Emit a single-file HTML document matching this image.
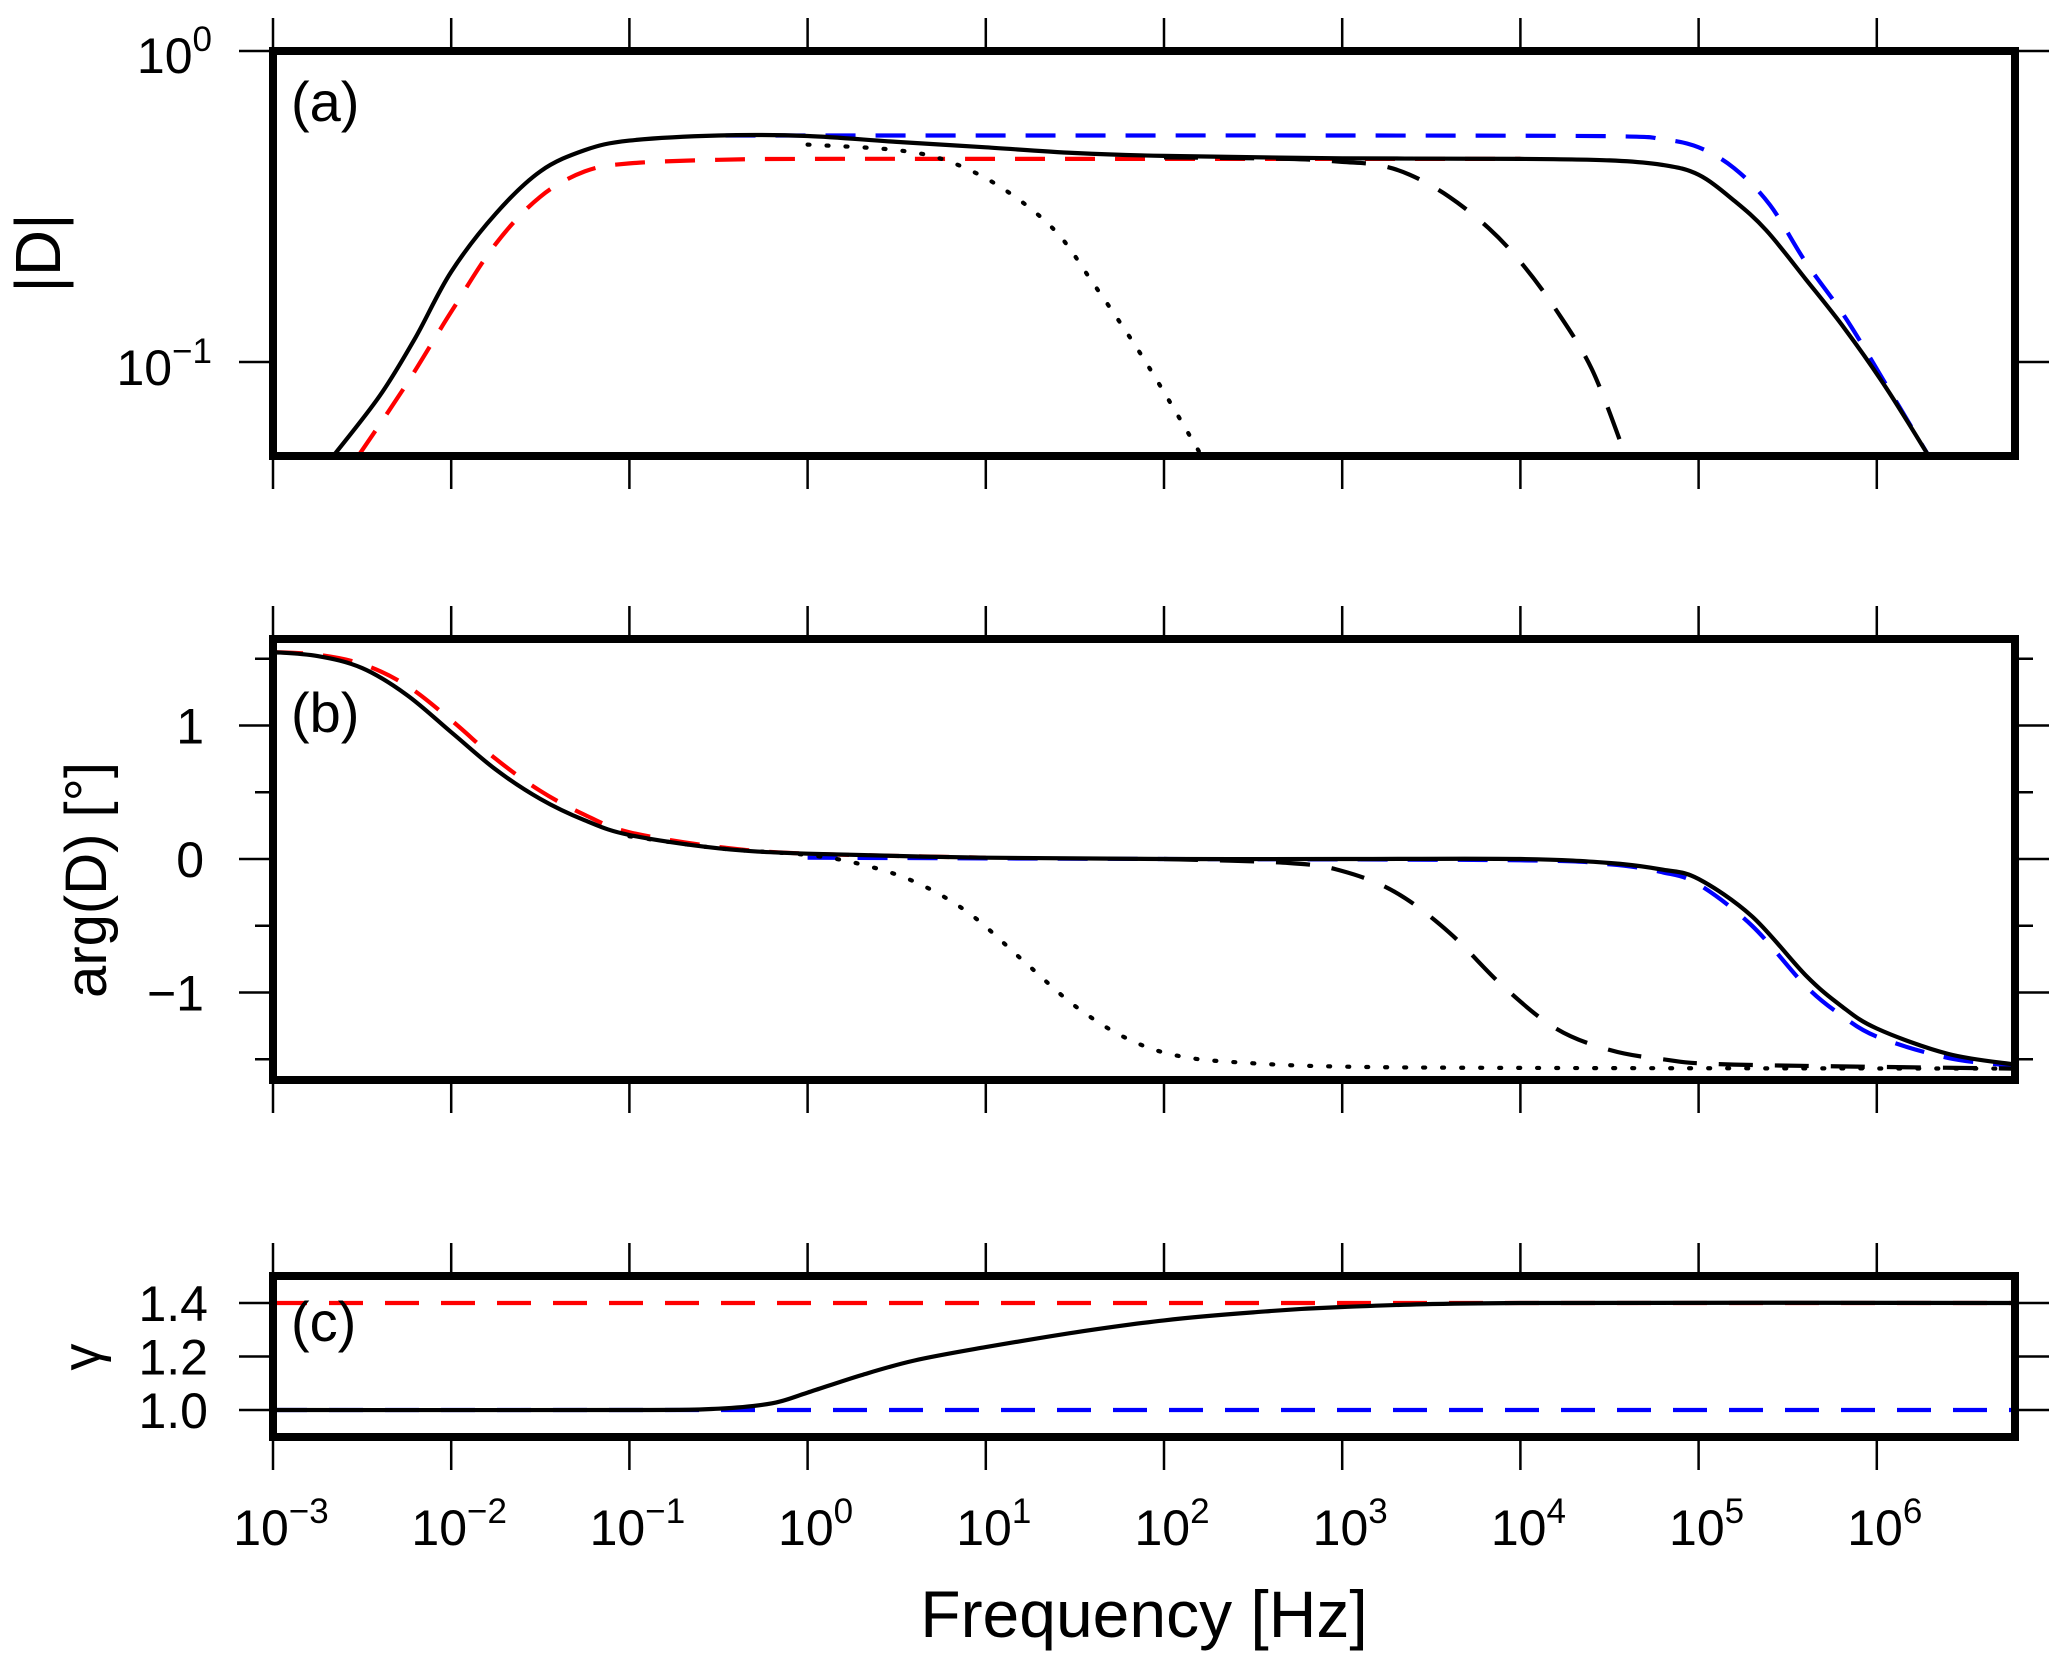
<!DOCTYPE html>
<html><head><meta charset="utf-8">
<style>
html,body{margin:0;padding:0;background:#fff;}
svg{display:block;font-family:"Liberation Sans",Arial,sans-serif;}
</style></head>
<body>
<svg id="chart" width="2067" height="1668" viewBox="0 0 2067 1668" xmlns="http://www.w3.org/2000/svg"></svg>
<script>
// ---- data (log10 frequency, value) ----
const magBlackX = [-2.66,-2.4,-2.2,-2.0,-1.75,-1.5,-1.25,-1.0,-0.5,0.0,0.5,1.0,1.5,2.0,3.0,4.0,4.5,4.8,5.0,5.2,5.38,5.6,5.82,6.05,6.29];
const magBlackY = [0.05,0.078,0.12,0.195,0.30,0.41,0.48,0.515,0.535,0.533,0.51,0.49,0.47,0.46,0.452,0.45,0.445,0.43,0.40,0.33,0.265,0.185,0.128,0.083,0.05];
const magRedX = [-2.52,-2.25,-2.0,-1.75,-1.5,-1.25,-1.0,-0.5,0.0,1.0,2.0,3.0,4.0];
const magRedY = [0.05,0.085,0.145,0.24,0.34,0.41,0.435,0.447,0.45,0.45,0.45,0.45,0.45];
const magBlueX = [-0.46,1.0,3.0,4.5,4.8,5.0,5.2,5.4,5.6,5.82,6.05,6.29];
const magBlueY = [0.535,0.535,0.535,0.532,0.52,0.49,0.42,0.32,0.21,0.14,0.085,0.05];
const magDotX = [0.0,0.5,0.8,1.1,1.39,1.6,1.83,2.0,2.21];
const magDotY = [0.50,0.48,0.44,0.36,0.264,0.18,0.115,0.08,0.05];
const magDashX = [2.0,2.7,3.0,3.2,3.38,3.6,3.82,4.0,4.19,4.4,4.59];
const magDashY = [0.455,0.45,0.44,0.43,0.40,0.34,0.27,0.21,0.15,0.095,0.05];

const argBlackX = [-3,-2.75,-2.5,-2.25,-2.0,-1.75,-1.5,-1.25,-1.0,-0.5,0,1,2,3,4,4.5,4.8,5.0,5.3,5.6,5.8,6.0,6.4,6.775];
const argBlackY = [1.55,1.52,1.43,1.23,0.95,0.67,0.45,0.29,0.18,0.08,0.04,0.01,0,0,0,-0.03,-0.08,-0.15,-0.43,-0.87,-1.1,-1.27,-1.46,-1.54];
const argRedX = [-3,-2.75,-2.5,-2.25,-2.0,-1.75,-1.5,-1.25,-1.0,-0.5,0,1];
const argRedY = [1.55,1.53,1.46,1.30,1.04,0.75,0.51,0.33,0.20,0.09,0.04,0.01];
const argBlueX = [0,2,4,4.5,4.8,5.0,5.3,5.6,5.8,6.0,6.4,6.775];
const argBlueY = [0.01,0,-0.01,-0.04,-0.10,-0.19,-0.50,-0.95,-1.17,-1.33,-1.49,-1.55];
const argDotX = [-1.0,-0.5,0,0.3,0.6,0.9,1.2,1.5,1.8,2.1,2.5,3.0,4,6.775];
const argDotY = [0.17,0.08,0.03,-0.04,-0.17,-0.40,-0.75,-1.10,-1.35,-1.48,-1.53,-1.555,-1.565,-1.57];
const argDashX = [2.0,2.7,3.0,3.3,3.6,3.9,4.2,4.5,4.8,5.2,6.775];
const argDashY = [0.0,-0.03,-0.09,-0.25,-0.55,-0.95,-1.27,-1.43,-1.50,-1.54,-1.57];

const gamBlackX = [-3,-1,-0.5,-0.2,0,0.3,0.6,1,1.5,2,2.5,3,4,6.775];
const gamBlackY = [1.0,1.0,1.005,1.025,1.065,1.13,1.185,1.235,1.29,1.335,1.365,1.385,1.4,1.4];
const gamRedX = [-3,6.775];
const gamRedY = [1.4,1.4];
const gamBlueX = [-3,6.775];
const gamBlueY = [1.0,1.0];

const xTickExps = [-3,-2,-1,0,1,2,3,4,5,6];
const argTicks = [-1,0,1];
const argMinor = [-1.5,-0.5,0.5,1.5];
const gamTicks = ["1.0","1.2","1.4"];

// ---- geometry ----
const L=273, R=2015;
const xs = lf => L + (lf+3)*178.2;
const panels = {
 a:{top:51,bot:456},
 b:{top:639,bot:1080},
 c:{top:1276,bot:1437}
};
const yA = v => 51 + (0 - Math.log10(v))*311;
const yB = v => 859 - v*133.5;
const yC = v => 1410 - (v-1.0)*267.5;

const svg = document.getElementById('chart');
const NS = 'http://www.w3.org/2000/svg';
function mk(tag, attrs, parent){
  const e = document.createElementNS(NS, tag);
  for (const k in attrs) e.setAttribute(k, attrs[k]);
  (parent||svg).appendChild(e);
  return e;
}
function smoothPath(pts){
  if (pts.length<3) return 'M'+pts.map(p=>p[0].toFixed(1)+' '+p[1].toFixed(1)).join(' L');
  let d='M'+pts[0][0].toFixed(1)+' '+pts[0][1].toFixed(1);
  for (let i=0;i<pts.length-1;i++){
    const p0=pts[Math.max(0,i-1)], p1=pts[i], p2=pts[i+1], p3=pts[Math.min(pts.length-1,i+2)];
    const c1=[p1[0]+(p2[0]-p0[0])/6, p1[1]+(p2[1]-p0[1])/6];
    const c2=[p2[0]-(p3[0]-p1[0])/6, p2[1]-(p3[1]-p1[1])/6];
    d+=' C'+c1[0].toFixed(1)+' '+c1[1].toFixed(1)+' '+c2[0].toFixed(1)+' '+c2[1].toFixed(1)+' '+p2[0].toFixed(1)+' '+p2[1].toFixed(1);
  }
  return d;
}
function curve(xArr, yArr, yf, color, dash, w, name, clipId){
  const pts = xArr.map((x,i)=>[xs(x), yf(yArr[i])]);
  const p = mk('path',{d:smoothPath(pts),fill:'none',stroke:color,'stroke-width':w,'stroke-dasharray':dash,'stroke-linejoin':'round','stroke-linecap':dash==='2 17'?'round':'butt','clip-path':'url(#'+clipId+')'});
  
  
}
const defs = mk('defs',{});
for (const k in panels){
  const cp = mk('clipPath',{id:'clip-'+k},defs);
  mk('rect',{x:L,y:panels[k].top,width:R-L,height:panels[k].bot-panels[k].top},cp);
}

function tickLabel(x,y,base,exp,anchor,name){
  const t = mk('text',{x:x,y:y,'font-size':50,'text-anchor':anchor,fill:'#000'});
  
  
  t.textContent = base;
  const s = mk('tspan',{dy:-22,'font-size':35},t);
  s.textContent = exp;
}

for (const k in panels){
  const p = panels[k];
  xTickExps.forEach(e=>{
    const x = xs(e);
    const t1 = mk('line',{x1:x,x2:x,y1:p.top-33,y2:p.top,stroke:'#000','stroke-width':2.5});
    
    
    const t2 = mk('line',{x1:x,x2:x,y1:p.bot,y2:p.bot+33,stroke:'#000','stroke-width':2.5});
    
    
  });
}
xTickExps.forEach(e=>{
  tickLabel(xs(e)+8,1545,'10',e<0?'\u2212'+(-e):String(e),'middle','x-tick-label');
});

function yTick(y,len,k){
  const a = mk('line',{x1:L-len,x2:L,y1:y,y2:y,stroke:'#000','stroke-width':2.5});
  
  
  const b = mk('line',{x1:R,x2:R+len,y1:y,y2:y,stroke:'#000','stroke-width':2.5});
  
  
}
yTick(yA(1),34,'a'); yTick(yA(0.1),34,'a');
tickLabel(212,73,'10','0','end','y-tick-label-a');
tickLabel(212,385,'10','\u22121','end','y-tick-label-a');
argTicks.forEach(v=>{
  yTick(yB(v),34,'b');
  const t = mk('text',{x:204,y:yB(v)+18,'font-size':50,'text-anchor':'end'});
  
  
  t.textContent = v<0?'\u2212'+(-v):String(v);
});
argMinor.forEach(v=>yTick(yB(v),18,'b'));
gamTicks.forEach(s=>{
  const v = parseFloat(s);
  yTick(yC(v),34,'c');
  const t = mk('text',{x:208,y:yC(v)+18,'font-size':50,'text-anchor':'end'});
  
  
  t.textContent = s;
});

const W=4.2;
curve(magRedX,magRedY,yA,'#f00','30 20',W,'mag-red-dashed','clip-a');
curve(magBlueX,magBlueY,yA,'#00f','30 20',W,'mag-blue-dashed','clip-a');
curve(magDotX,magDotY,yA,'#000','2 17',W,'mag-black-dotted','clip-a');
curve(magDashX,magDashY,yA,'#000','34 22',W,'mag-black-dashed','clip-a');
curve(magBlackX,magBlackY,yA,'#000','none',W,'mag-black-solid','clip-a');

curve(argRedX,argRedY,yB,'#f00','30 20',W,'arg-red-dashed','clip-b');
curve(argBlueX,argBlueY,yB,'#00f','30 20',W,'arg-blue-dashed','clip-b');
curve(argDotX,argDotY,yB,'#000','2 17',W,'arg-black-dotted','clip-b');
curve(argDashX,argDashY,yB,'#000','34 22',W,'arg-black-dashed','clip-b');
curve(argBlackX,argBlackY,yB,'#000','none',W,'arg-black-solid','clip-b');

curve(gamRedX,gamRedY,yC,'#f00','34 22',W,'gamma-red-dashed','clip-c');
curve(gamBlueX,gamBlueY,yC,'#00f','34 22',W,'gamma-blue-dashed','clip-c');
curve(gamBlackX,gamBlackY,yC,'#000','none',W,'gamma-black-solid','clip-c');

for (const k in panels){
  const p = panels[k];
  const r = mk('rect',{x:L,y:p.top,width:R-L,height:p.bot-p.top,fill:'none',stroke:'#000','stroke-width':8});
  
  
}
[['(a)',291,121],['(b)',291,732],['(c)',291,1341]].forEach(([s,x,y])=>{
  const t = mk('text',{x:x,y:y,'font-size':56});
  
  
  t.textContent = s;
});
function rotTitle(s,x,y,size,name){
  const t = mk('text',{x:x,y:y,'font-size':size,'text-anchor':'middle',transform:'rotate(-90 '+x+' '+y+')'});
  
  
  t.textContent = s;
}
rotTitle('|D|',60,253,64,'y-axis-title-a');
rotTitle('arg(D) [\u00b0]',106,880,58,'y-axis-title-b');
rotTitle('\u03b3',100,1357,54,'y-axis-title-c');
const xt = mk('text',{x:1144,y:1637,'font-size':66,'text-anchor':'middle'});


xt.textContent = 'Frequency [Hz]';
</script>
</body></html>
